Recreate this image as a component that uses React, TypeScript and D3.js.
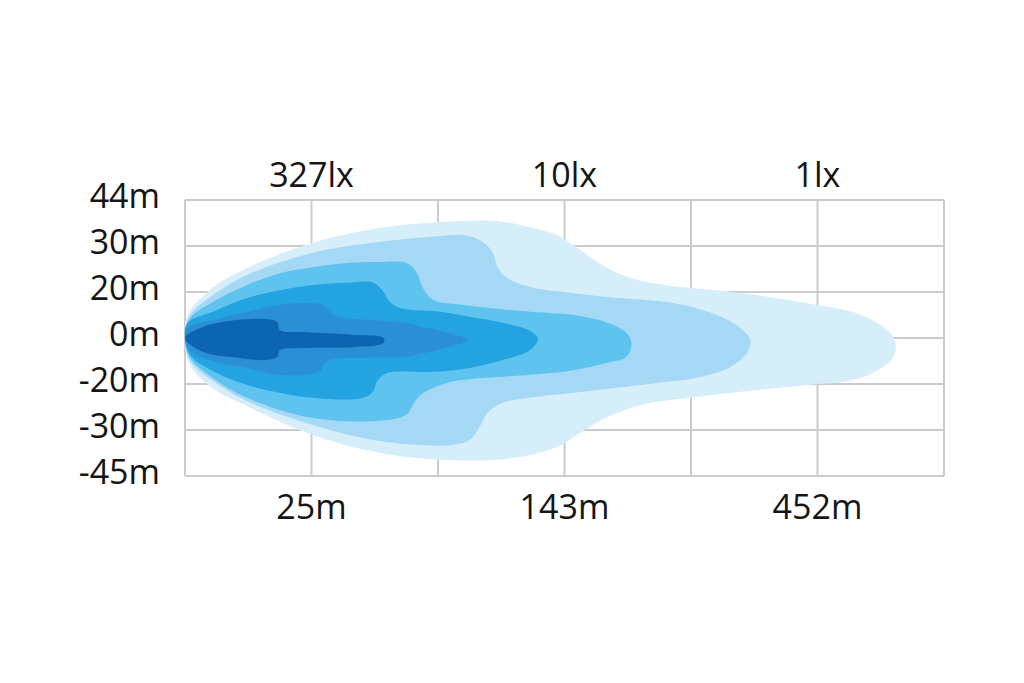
import * as d3 from 'd3'
import React, { useEffect, useRef } from 'react'

// beam contours, outer (weakest) to inner (strongest); x = grid column, y = grid row from centre
const zone1: [number, number][] = [
    [0, 0], [0.02, 0.5], [0.22, 1.09], [0.49, 1.52], [1.01, 2.07], [1.54, 2.39], [2.02, 2.52],
    [2.47, 2.54], [2.73, 2.41], [2.94, 2.24], [3.07, 2.02], [3.26, 1.65], [3.42, 1.41], [3.65, 1.22],
    [3.99, 1.09], [4.39, 0.98], [5.0, 0.72], [5.31, 0.54], [5.52, 0.24], [5.61, -0.04], [5.6, -0.41],
    [5.44, -0.76], [5.18, -0.96], [5.0, -1.0], [4.39, -1.17], [3.99, -1.3], [3.6, -1.46], [3.34, -1.72],
    [3.12, -2.07], [2.94, -2.37], [2.59, -2.61], [2.07, -2.65], [1.54, -2.5], [1.01, -2.11],
    [0.49, -1.48], [0.22, -1.09], [0.04, -0.59],
];
const zone2: [number, number][] = [
    [0, 0], [0.04, 0.5], [0.22, 0.93], [0.49, 1.37], [1.01, 1.85], [1.54, 2.09], [2.02, 2.22],
    [2.2, 2.24], [2.33, 2.13], [2.43, 1.87], [2.47, 1.54], [2.55, 1.3], [2.73, 1.11], [2.99, 1.0],
    [3.34, 0.89], [3.86, 0.76], [4.13, 0.57], [4.33, 0.33], [4.47, -0.04], [4.44, -0.33], [4.31, -0.63],
    [4.07, -0.85], [3.73, -0.98], [3.26, -1.13], [2.73, -1.3], [2.51, -1.41], [2.39, -1.63],
    [2.33, -1.93], [2.25, -2.22], [2.09, -2.33], [1.54, -2.24], [1.01, -1.89], [0.49, -1.37],
    [0.22, -0.93], [0.04, -0.5],
];
const zone3: [number, number][] = [
    [0, 0], [0.04, 0.43], [0.22, 0.78], [0.49, 1.15], [0.75, 1.41], [1.01, 1.54], [1.28, 1.63],
    [1.54, 1.65], [1.75, 1.63], [1.83, 1.43], [1.88, 1.09], [1.96, 0.83], [2.2, 0.72], [2.73, 0.57],
    [3.07, 0.5], [3.34, 0.33], [3.49, 0.11], [3.53, -0.11], [3.49, -0.41], [3.34, -0.54], [3.07, -0.7],
    [2.73, -0.8], [2.2, -0.91], [2.02, -1.02], [1.86, -1.24], [1.8, -1.46], [1.75, -1.67], [1.54, -1.8],
    [1.01, -1.74], [0.49, -1.3], [0.22, -0.87], [0.04, -0.43],
];
const zone4: [number, number][] = [
    [0, 0], [0.02, 0.33], [0.22, 0.57], [0.49, 0.87], [0.75, 1.04], [1.01, 1.15], [1.28, 1.2],
    [1.49, 1.2], [1.57, 1.0], [1.62, 0.78], [1.7, 0.65], [2.02, 0.57], [2.25, 0.46], [2.51, 0.33],
    [2.73, 0.15], [2.79, -0.02], [2.73, -0.26], [2.51, -0.48], [2.25, -0.65], [1.94, -0.74],
    [1.6, -0.76], [1.52, -0.93], [1.49, -1.15], [1.41, -1.3], [1.01, -1.3], [0.49, -1.02],
    [0.22, -0.72], [0.04, -0.37],
];
const zone5: [number, number][] = [
    [0, 0], [0.02, 0.22], [0.22, 0.39], [0.49, 0.57], [0.75, 0.72], [0.96, 0.76], [1.09, 0.72],
    [1.15, 0.57], [1.2, 0.46], [1.46, 0.39], [1.72, 0.33], [1.99, 0.17], [2.23, -0.04], [1.99, -0.26],
    [1.72, -0.41], [1.46, -0.43], [1.12, -0.5], [1.07, -0.72], [0.96, -0.8], [0.75, -0.8],
    [0.49, -0.65], [0.22, -0.5], [0.04, -0.28],
];
const zone6: [number, number][] = [
    [0, 0], [0.14, 0.24], [0.41, 0.39], [0.65, 0.41], [0.73, 0.35], [0.75, 0.17], [0.93, 0.13],
    [1.33, 0.07], [1.57, 0.0], [1.57, -0.11], [1.33, -0.2], [0.93, -0.22], [0.75, -0.26],
    [0.73, -0.41], [0.65, -0.48], [0.41, -0.43], [0.14, -0.3],
];
const zoneColors = ['#d6edfa', '#a4d8f5', '#5fc3ef', '#23a3df', '#2b8fd5', '#0b65b3'];

const yLabels = ['44m', '30m', '20m', '0m', '-20m', '-30m', '-45m'];
const luxLabels = ['327lx', '10lx', '1lx'];
const distLabels = ['25m', '143m', '452m'];

const width = 1024;
const height = 683;

const App: React.FC = () => {
    const ref = useRef<SVGSVGElement>(null);

    useEffect(() => {
        if (!ref.current) return;
        const svg = d3.select(ref.current);
        svg.selectAll('*').remove();

        const plot = { left: 185, right: 944, top: 200, bottom: 476 };
        const x = d3.scaleLinear().domain([0, 6]).range([plot.left, plot.right]);
        const y = d3.scaleLinear().domain([3, -3]).range([plot.top, plot.bottom]);

        // grid
        const grid = svg.append('g')
            .attr('stroke', '#cbcbcb')
            .attr('stroke-width', 2)
            .attr('fill', 'none');
        grid.selectAll('line.v')
            .data(d3.range(0, 7))
            .enter()
            .append('line')
            .attr('x1', d => x(d))
            .attr('x2', d => x(d))
            .attr('y1', y(3))
            .attr('y2', y(-3));
        grid.selectAll('line.h')
            .data(d3.range(-3, 4))
            .enter()
            .append('line')
            .attr('x1', x(0))
            .attr('x2', x(6))
            .attr('y1', d => y(d))
            .attr('y2', d => y(d));

        // beam zones
        const line = d3.line<[number, number]>()
            .x(d => x(d[0]))
            .y(d => y(d[1]))
            .curve(d3.curveCatmullRomClosed.alpha(0.5));
        const zones = [zone1, zone2, zone3, zone4, zone5, zone6];
        svg.append('g')
            .selectAll('path')
            .data(zones)
            .enter()
            .append('path')
            .attr('d', d => line(d))
            .attr('fill', (_, i) => zoneColors[i]);

        const text = svg.append('g')
            .attr('font-family', '"Open Sans", sans-serif')
            .attr('font-size', 34)
            .attr('fill', '#151515');

        text.selectAll('text.y')
            .data(yLabels)
            .enter()
            .append('text')
            .attr('x', plot.left - 25)
            .attr('y', (_, i) => y(3 - i) + 8)
            .attr('text-anchor', 'end')
            .text(d => d);

        text.selectAll('text.lux')
            .data(luxLabels)
            .enter()
            .append('text')
            .attr('x', (_, i) => x(i * 2 + 1))
            .attr('y', plot.top - 13)
            .attr('text-anchor', 'middle')
            .text(d => d);

        text.selectAll('text.dist')
            .data(distLabels)
            .enter()
            .append('text')
            .attr('x', (_, i) => x(i * 2 + 1))
            .attr('y', plot.bottom + 43)
            .attr('text-anchor', 'middle')
            .text(d => d);
    }, []);

    return (
        <svg
            ref={ref}
            width={width}
            height={height}
            style={{ position: 'absolute', left: 0, top: 0, background: '#fff' }}
        />
    );
};

export default App;
